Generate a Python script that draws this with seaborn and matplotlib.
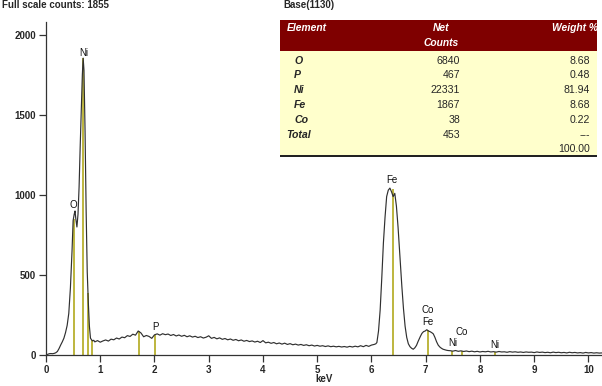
import numpy as np
import pandas as pd
import matplotlib
matplotlib.use("Agg")
import matplotlib.pyplot as plt
from matplotlib.patches import Rectangle
import seaborn as sns

# --- spectrum (keV, counts) ---
# low energy part: O and Ni L peaks
low_kev = [0.00, 0.03, 0.06, 0.09, 0.12, 0.15, 0.18, 0.21, 0.24, 0.27, 0.30, 0.33,
           0.36, 0.39, 0.42, 0.45, 0.48, 0.50, 0.52, 0.535, 0.55, 0.57, 0.59, 0.61,
           0.63, 0.65, 0.67, 0.685, 0.70, 0.72, 0.74, 0.76, 0.78, 0.80, 0.82, 0.84,
           0.86, 0.88]
low_counts = [0, 4, 8, 9, 8, 10, 14, 22, 40, 62, 82, 105,
              140, 185, 260, 420, 650, 840, 880, 900, 850, 800, 880, 1050,
              1300, 1520, 1750, 1855, 1780, 1400, 900, 520, 330, 180, 105, 95,
              88, 92]

# background from 0.90 keV, one reading every 0.05 keV
base_start = 0.90
base_step = 0.05
base_counts = [82, 90, 80, 88, 94, 87, 99, 95, 106, 100, 112, 108, 121, 116, 130, 124,
               150, 138, 114, 122, 116, 104, 126, 132, 124, 133, 127, 131, 122, 128,
               119, 125, 117, 123, 114, 120, 112, 117, 109, 114, 106, 111, 120, 104,
               110, 101, 107, 98, 103, 95, 100, 92, 97, 89, 94, 86, 91, 84, 88, 81,
               86, 78, 90, 76, 80, 73, 78, 70, 75, 68, 74, 66, 71, 64, 68, 62, 66,
               60, 64, 58, 62, 56, 60, 55, 58, 53, 57, 52, 55, 51, 54, 50, 53, 49,
               54, 50, 55, 51, 58, 52, 60, 54, 62, 66]

# Fe K alpha / K beta region
fe_kev = [6.08, 6.10, 6.13, 6.16, 6.19, 6.22, 6.25, 6.28, 6.31, 6.34, 6.37, 6.40,
          6.43, 6.46, 6.49, 6.52, 6.56, 6.59, 6.62, 6.65, 6.68, 6.71, 6.74, 6.77,
          6.80, 6.83, 6.86, 6.90, 6.93, 6.96, 6.99, 7.02, 7.05, 7.08, 7.11, 7.14,
          7.17, 7.20, 7.23, 7.26, 7.29, 7.32, 7.35, 7.38, 7.41]
fe_counts = [70, 78, 150, 280, 480, 700, 860, 990, 1030, 1043, 1020, 990,
             1010, 930, 800, 640, 430, 290, 180, 110, 70, 52, 42, 36,
             45, 60, 85, 115, 135, 146, 150, 158, 150, 146, 140, 132,
             110, 83, 62, 50, 42, 36, 33, 30, 28]

# tail from 7.45 keV, every 0.05 keV
tail_start = 7.45
tail_step = 0.05
tail_counts = [27, 24, 28, 23, 26, 22, 25, 21, 24, 20, 23, 19, 22, 20, 23, 19, 21, 18,
               22, 19, 20, 17, 21, 18, 20, 17, 19, 16, 19, 17, 18, 15, 19, 16, 18, 15,
               17, 14, 18, 15, 17, 14, 16, 13, 17, 14, 16, 13, 15, 12, 16, 13, 15, 12,
               14, 12, 13]

# element marker lines
line_kev = [0.517, 0.69, 0.77, 0.85, 1.72, 2.01, 6.39, 7.04, 7.49, 7.67, 8.28]
line_top = [850, 1855, 388, 94, 150, 126, 1040, 156, 24, 22, 18]

# peak labels
peak_names = ["O", "Ni", "P", "Fe", "Co", "Fe", "Co", "Ni", "Ni"]
peak_kev = [0.51, 0.69, 2.02, 6.38, 7.04, 7.04, 7.67, 7.50, 8.28]
peak_y = [937, 1890, 177, 1094, 281, 204, 146, 73, 62]

# quantification table
elements = ["O", "P", "Ni", "Fe", "Co", "Total"]
net_counts = ["6840", "467", "22331", "1867", "38", "453"]
weights = ["8.68", "0.48", "81.94", "8.68", "0.22", "---"]
weight_total = "100.00"

base_kev = base_start + base_step * np.arange(len(base_counts))
tail_kev = tail_start + tail_step * np.arange(len(tail_counts))
spec = pd.DataFrame({
    "keV": np.concatenate([low_kev, base_kev, fe_kev, tail_kev]),
    "counts": np.concatenate([low_counts, base_counts, fe_counts, tail_counts]),
})

sns.set_style("ticks")
plt.rcParams["font.family"] = ["Liberation Sans", "DejaVu Sans"]

fig = plt.figure(figsize=(6.02, 3.86), dpi=100)
ax = fig.add_axes([46 / 602, 31 / 386, 556 / 602, 333 / 386])

yellow = "#bdb53e"
ax.vlines(line_kev, 0, line_top, color=yellow, lw=1.4, zorder=2)
sns.lineplot(data=spec, x="keV", y="counts", ax=ax, color="#303030", lw=0.85,
             sort=False, zorder=3)

for name, xk, yc in zip(peak_names, peak_kev, peak_y):
    ax.text(xk, yc, name, ha="center", va="center", fontsize=7, color="#111111")

ax.set_xlim(0, 10.25)
ax.set_ylim(0, 2081)
ax.set_xticks(range(0, 11))
ax.set_yticks([0, 500, 1000, 1500, 2000])
ax.set_xlabel("")
ax.set_ylabel("")
ax.tick_params(axis="both", length=5, width=0.9, color="#333333", labelsize=7, pad=2)
for lab in ax.get_xticklabels() + ax.get_yticklabels():
    lab.set_fontweight("bold")
sns.despine(ax=ax)
for s in ["left", "bottom"]:
    ax.spines[s].set_color("#333333")
    ax.spines[s].set_linewidth(0.9)

fig.text(2 / 602, 1 - 5 / 386, "Full scale counts: 1855", fontsize=7,
         fontweight="bold", ha="left", va="center")
fig.text(283 / 602, 1 - 5 / 386, "Base(1130)", fontsize=7,
         fontweight="bold", ha="left", va="center")
fig.text(324 / 602, 1 - 379 / 386, "keV", fontsize=7,
         fontweight="bold", ha="center", va="center")

# table overlay in pixel coordinates
tax = fig.add_axes([0, 0, 1, 1], zorder=5)
tax.set_xlim(0, 602)
tax.set_ylim(386, 0)
tax.axis("off")
tax.add_patch(Rectangle((280, 20), 317, 31, facecolor="#7f0000", edgecolor="none"))
tax.add_patch(Rectangle((280, 51), 317, 104, facecolor="#ffffcc", edgecolor="none"))
tax.add_patch(Rectangle((280, 155), 317, 2.2, facecolor="#222222", edgecolor="none"))
hdr = dict(color="white", fontsize=7.4, fontweight="bold", style="italic", va="center")
tax.text(287, 28, "Element", ha="left", **hdr)
tax.text(441, 28, "Net", ha="center", **hdr)
tax.text(441, 43, "Counts", ha="center", **hdr)
tax.text(598, 28, "Weight %", ha="right", **hdr)
row_y = [60.7, 75.5, 90.3, 105.1, 119.9, 134.7]
for i, (el, nc, wt) in enumerate(zip(elements, net_counts, weights)):
    x_el = 286 if el == "Total" else 294
    tax.text(x_el, row_y[i], el, ha="left", va="center", fontsize=7.6,
             fontweight="bold", style="italic")
    tax.text(460, row_y[i], nc, ha="right", va="center", fontsize=7.6)
    tax.text(590, row_y[i], wt, ha="right", va="center", fontsize=7.6)
tax.text(590, 149.2, weight_total, ha="right", va="center", fontsize=7.6)

fig.savefig("out.png", dpi=100)
